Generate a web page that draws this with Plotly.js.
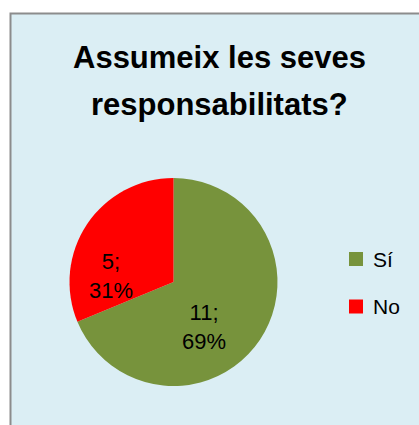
<!DOCTYPE html>
<html>
<head>
<meta charset="utf-8">
<script src="https://cdn.plot.ly/plotly-3.0.1.min.js"></script>
<style>html,body{margin:0;padding:0;background:#fff;}#chart{width:419px;height:425px;}</style>
</head>
<body>
<div id="chart"></div>
<script>
var categories = ["Sí", "No"];
var values = [11, 5];
var colors = ["#77933C", "#FF0000"];
var titleLines = ["Assumeix les seves", "responsabilitats?"];

var W = 419, H = 425;
var FONT = "Liberation Sans, Arial, sans-serif";
function px(x) { return x / W; }
function py(y) { return 1 - y / H; }

var total = values.reduce(function (a, b) { return a + b; }, 0);

var trace = {
  type: "pie",
  labels: categories,
  values: values,
  sort: false,
  direction: "clockwise",
  rotation: 0,
  marker: {colors: colors, line: {width: 0}},
  textinfo: "none",
  hoverinfo: "none",
  showlegend: false,
  domain: {x: [px(69), px(278)], y: [py(386), py(178)]}
};

var annotations = [];
// title lines
var titleY = [57, 104];
titleLines.forEach(function (t, i) {
  annotations.push({
    text: "<b>" + t + "</b>", xref: "paper", yref: "paper",
    x: px(219), y: py(titleY[i]), xanchor: "center", yanchor: "middle",
    showarrow: false, font: {family: FONT, size: 31, color: "#000"}
  });
});
// data labels
var labelPos = [[204, 327], [111, 276]];
values.forEach(function (v, i) {
  annotations.push({
    text: v + ";<br>" + Math.round(100 * v / total) + "%",
    xref: "paper", yref: "paper",
    x: px(labelPos[i][0]), y: py(labelPos[i][1]),
    xanchor: "center", yanchor: "middle", align: "center",
    showarrow: false, font: {family: FONT, size: 22, color: "#000"}
  });
});
// legend
var shapes = [{
  type: "rect", xref: "paper", yref: "paper", layer: "below",
  x0: px(10.5), x1: 1.05, y0: -0.05, y1: py(13.5),
  fillcolor: "#DBEEF4", line: {color: "#8C8C8C", width: 2}
}];
var legendY = [259, 306.5];
categories.forEach(function (c, i) {
  shapes.push({
    type: "rect", xref: "paper", yref: "paper",
    x0: px(349), x1: px(363), y0: py(legendY[i] + 7), y1: py(legendY[i] - 7),
    fillcolor: colors[i], line: {width: 0}
  });
  annotations.push({
    text: c, xref: "paper", yref: "paper",
    x: px(371), y: py(legendY[i]), xanchor: "left", yanchor: "middle",
    showarrow: false, font: {family: FONT, size: 21, color: "#000"}
  });
});

var layout = {
  width: W, height: H,
  margin: {l: 0, r: 0, t: 0, b: 0},
  paper_bgcolor: "#ffffff",
  showlegend: false,
  annotations: annotations,
  shapes: shapes
};

Plotly.newPlot("chart", [trace], layout, {displayModeBar: false, staticPlot: true});
</script>
</body>
</html>
